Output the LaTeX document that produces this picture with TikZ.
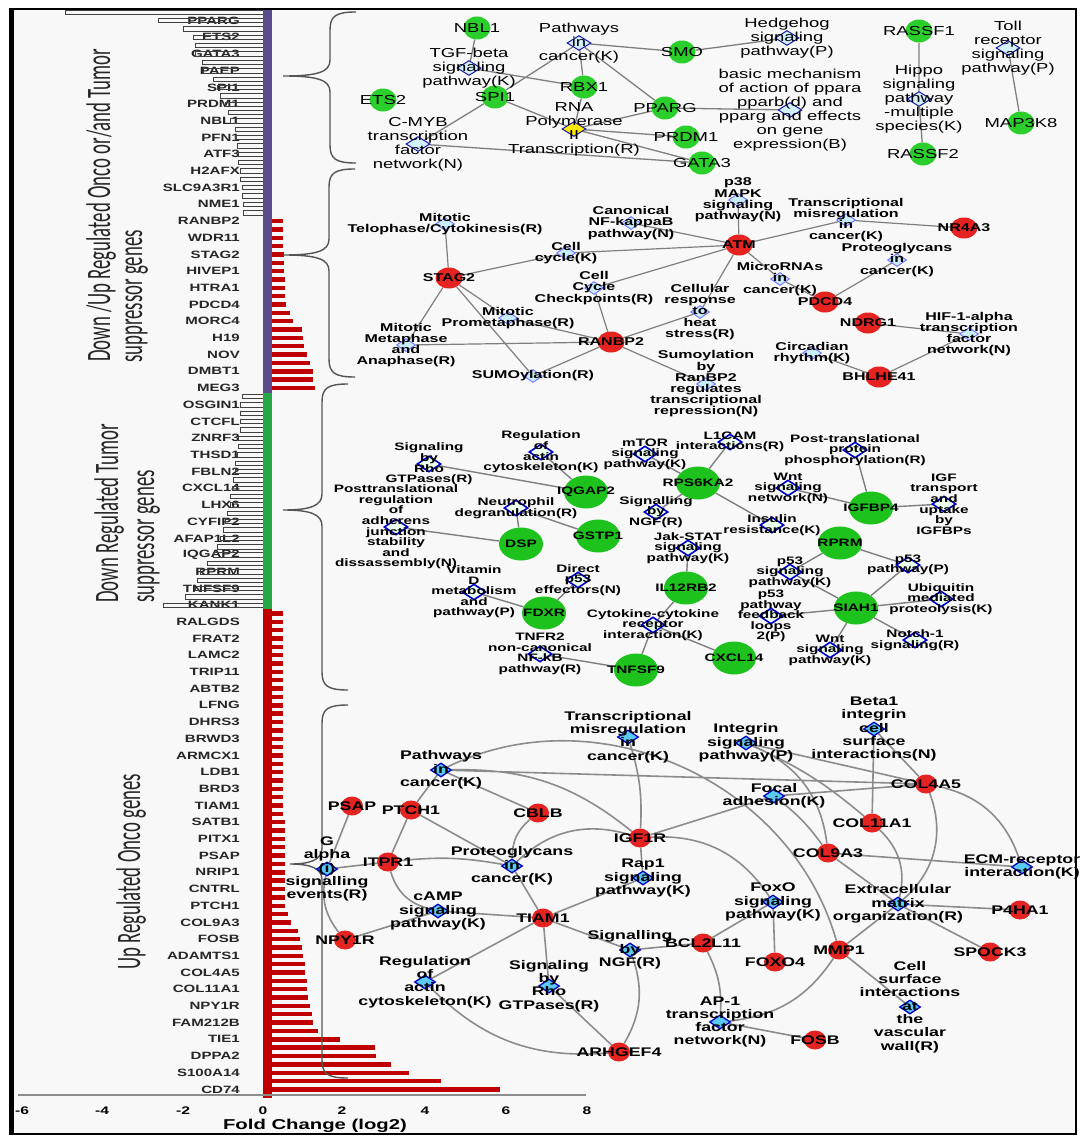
\documentclass[tikz,border=0pt]{standalone}
\usepackage{fontspec}
\usepackage{graphicx}
\usetikzlibrary{shapes.geometric}
\newfontfamily\netfont{Liberation Sans}[FakeStretch=1.42]
\newfontfamily\ttlfont{Carlito}
\definecolor{bgfill}{HTML}{F8F8F8}
\definecolor{edgegray}{HTML}{7F7F7F}
\definecolor{genegreen}{HTML}{2BCF2B}
\definecolor{genegreentwo}{HTML}{1DC21D}
\definecolor{genered}{HTML}{E52421}
\definecolor{bandpurple}{HTML}{5B4B8A}
\definecolor{bandgreen}{HTML}{26A846}
\definecolor{barred}{HTML}{C00000}
\definecolor{bracegray}{HTML}{555555}
\pgfdeclarelayer{bg}
\pgfsetlayers{bg,main}

\begin{document}
\begin{tikzpicture}[x=1pt, y=-1pt,
  link/.style={draw=edgegray, line width=1.3pt},
  lbl/.style={align=center, inner sep=0pt},
  ggene/.style={ellipse, fill=genegreen, inner sep=0pt},
  rgene/.style={ellipse, fill=genered, inner sep=0pt},
  pway/.style={diamond, inner sep=0pt},
  glbl/.style={font=\netfont\bfseries\fontsize{10.6}{11}\selectfont, anchor=east, inner sep=0pt, text=black!85},
  hbar/.style={draw=black!75, line width=0.7pt},
  rbar/.style={fill=barred},
  brace/.style={draw=bracegray, line width=1.4pt},
  ttl/.style={rotate=90, anchor=base west, inner sep=0pt, font=\ttlfont\fontsize{18.8}{20}\selectfont, text=black!85},
  tick/.style={font=\netfont\bfseries\fontsize{11}{12}\selectfont, inner sep=0pt}]

\useasboundingbox (0,0) rectangle (1080,1140);
\begin{pgfonlayer}{bg}
\fill[white] (0,0) rectangle (1080,1140);
\fill[bgfill] (10,9) rectangle (1076,1134);
\end{pgfonlayer}

% fold change bars
\foreach \g [count=\idx from 0] in {PPARG,ETS2,GATA3,PAEP,SPI1,PRDM1,NBL1,PFN1,ATF3,H2AFX,SLC9A3R1,NME1,RANBP2,WDR11,STAG2,HIVEP1,HTRA1,PDCD4,MORC4,H19,NOV,DMBT1,MEG3,OSGIN1,CTCFL,ZNRF3,THSD1,FBLN2,CXCL14,LHX6,CYFIP2,AFAP1L2,IQGAP2,RPRM,TNFSF9,KANK1,RALGDS,FRAT2,LAMC2,TRIP11,ABTB2,LFNG,DHRS3,BRWD3,ARMCX1,LDB1,BRD3,TIAM1,SATB1,PITX1,PSAP,NRIP1,CNTRL,PTCH1,COL9A3,FOSB,ADAMTS1,COL4A5,COL11A1,NPY1R,FAM212B,TIE1,DPPA2,S100A14,CD74}
  \node[glbl] (gl\idx) at (240,{20.6+16.7*\idx}) {\g};
\foreach \len [count=\idx from 0] in {65,158,183,193,195,195,202,203,213,217,220,225,228,230,235,235,237,238,238,240,240,242,242,243,243}
  \draw[hbar] (\len,{12.25+8.35*\idx-2.2}) rectangle (263,{12.25+8.35*\idx+2.2});
\foreach \len [count=\idx from 0] in {283,283,283,283,284,284,284,285,285,285,286,290,293,302,303,304,307,310,313,313,315}
  \fill[rbar] (263,{221+8.35*\idx-2.2}) rectangle (\len,{221+8.35*\idx+2.2});
\foreach \len [count=\idx from 0] in {242,240,240,240,240,238,238,237,235,235,233,232,230,230,227,225,223,220,217,213,207,200,197,195,185,163}
  \draw[hbar] (\len,{396.35+8.35*\idx-2.2}) rectangle (263,{396.35+8.35*\idx+2.2});
\foreach \len [count=\idx from 0] in {283,283,283,283,283,283,283,283,283,283,283,283,283,283,283,283,283,283,283,283,283,283,283,283,283,285,285,285,285,285,285,285,285,285,285,285,288,291,298,300,302,303,305,305,307,307,308,310,312,313,318,340,375,376,391,409,441,500}
  \fill[rbar] (263,{613.45+8.35*\idx-2.2}) rectangle (\len,{613.45+8.35*\idx+2.2});
\fill[bandpurple] (263,10) rectangle (272,393);
\fill[bandgreen] (263,393) rectangle (272,609);
\fill[barred] (263,609) rectangle (272,1098);
\draw[draw=black!45, line width=1.2pt] (18,1095) -- (586,1095);
\foreach \tk/\xx [count=\idx] in {-6/22,-4/102,-2/183,0/263,2/342,4/425,6/506,8/587}
  \node[tick] (tk\idx) at (\xx,1111) {\tk};
\node[tick, font=\netfont\bfseries\fontsize{14.3}{15}\selectfont] (xtitle) at (315,1126) {Fold Change (log2)};

\node[ttl] (ttl1a) at (110,362) {\scalebox{1}[1.82]{Down /Up Regulated Onco or/and Tumor}};
\node[ttl] (ttl1b) at (142,363) {\scalebox{1}[1.82]{suppressor genes}};
\node[ttl] (ttl2a) at (118,603) {\scalebox{1}[1.82]{Down Regulated Tumor}};
\node[ttl] (ttl2b) at (154,603) {\scalebox{1}[1.82]{suppressor genes}};
\node[ttl] (ttl3) at (140,970) {\scalebox{1}[1.82]{Up Regulated Onco genes}};

\foreach \xv/\top/\tip/\tipx/\bot in {330/12/76/283/163, 329/169/255/283/377, 322/384/510/283/690, 322/705/864/290/1078}
  \draw[brace] (\xv+26,\top) .. controls (\xv+6,\top) and (\xv,\top+4) .. (\xv,\top+18)
    -- (\xv,\tip-16) .. controls (\xv,\tip-4) and (\xv-12,\tip) .. (\tipx,\tip)
    .. controls (\xv-12,\tip) and (\xv,\tip+4) .. (\xv,\tip+16)
    -- (\xv,\bot-18) .. controls (\xv,\bot-4) and (\xv+6,\bot) .. (\xv+26,\bot);

% network 1
\begin{scope}[lbl/.append style={font=\netfont\fontsize{13}{14}\selectfont},
  ggene/.append style={minimum width=27pt, minimum height=23pt},
  pway/.append style={minimum width=24pt, minimum height=15pt, draw=blue!60!black!90, fill=cyan!18, line width=1pt}]
\node[ggene, label={[lbl]center:NBL1}] (nbl1) at (477,28) {};
\node[ggene, label={[lbl]center:SMO}] (smo) at (682,52) {};
\node[ggene, label={[lbl]center:RBX1}] (rbx1) at (584,87) {};
\node[ggene, label={[lbl]center:SPI1}] (spi1) at (495,97) {};
\node[ggene, label={[lbl]center:ETS2}] (ets2) at (383,100) {};
\node[ggene, label={[lbl]center:PPARG}] (pparg) at (665,108) {};
\node[ggene, label={[lbl]center:PRDM1}] (prdm1) at (686,137) {};
\node[ggene, label={[lbl]center:GATA3}] (gata3) at (702,163) {};
\node[ggene, label={[lbl]center:RASSF1}] (rassf1) at (919,31) {};
\node[ggene, label={[lbl]center:RASSF2}] (rassf2) at (923,154) {};
\node[ggene, label={[lbl]center:MAP3K8}] (map3k8) at (1021,123) {};
\node[pway, label={[lbl]center:{Pathways\\in\\cancer(K)}}] (pica) at (579,43) {};
\node[pway, label={[lbl]center:{TGF-beta\\signaling\\pathway(K)}}] (tgfb) at (469,68) {};
\node[pway, label={[lbl]center:{Hedgehog\\signaling\\pathway(P)}}] (hedge) at (787,38) {};
\node[pway, label={[lbl]center:{basic mechanism\\of action of ppara\\pparb(d) and\\pparg and effects\\on gene\\expression(B)}}] (ppara) at (790,110) {};
\node[pway, label={[lbl]center:{Hippo\\signaling\\pathway\\-multiple\\species(K)}}] (hippo) at (919,99) {};
\node[pway, label={[lbl]center:{Toll\\receptor\\signaling\\pathway(P)}}] (toll) at (1008,48) {};
\node[pway, fill=yellow!90!orange, label={[lbl]center:{RNA\\Polymerase\\II\\Transcription(R)}}] (rnapol) at (574,129) {};
\node[pway, label={[lbl]center:{C-MYB\\transcription\\factor\\network(N)}}] (cmyb) at (418,144) {};
\begin{pgfonlayer}{bg}
\draw[link] (nbl1) -- (tgfb) (tgfb) -- (rbx1) (pica) -- (smo) (smo) -- (hedge)
  (pica) -- (rbx1) (pica) -- (pparg) (pica) -- (spi1) (rbx1) -- (rnapol)
  (spi1) -- (rnapol) (spi1) -- (cmyb) (pparg) -- (rnapol) (pparg) -- (ppara)
  (rnapol) -- (prdm1) (rnapol) -- (gata3) (cmyb) -- (gata3)
  (rassf1) -- (hippo) (hippo) -- (rassf2) (toll) -- (map3k8);
\end{pgfonlayer}
\end{scope}

% network 2
\begin{scope}[lbl/.append style={font=\netfont\bfseries\fontsize{11.3}{11.2}\selectfont},
  rgene/.append style={minimum width=27pt, minimum height=21pt},
  pway/.append style={minimum width=19pt, minimum height=13pt, draw=blue!55, fill=cyan!22, line width=0.9pt}]
\node[rgene, label={[lbl]center:ATM}] (atm) at (739,245) {};
\node[rgene, label={[lbl]center:NR4A3}] (nr4a3) at (964,228) {};
\node[rgene, label={[lbl]center:STAG2}] (stag2) at (449,278) {};
\node[rgene, label={[lbl]center:PDCD4}] (pdcd4) at (825,302) {};
\node[rgene, label={[lbl]center:NDRG1}] (ndrg1) at (868,323) {};
\node[rgene, label={[lbl]center:RANBP2}] (ranbp2) at (611,342) {};
\node[rgene, label={[lbl]center:BHLHE41}] (bhlhe41) at (879,377) {};
\node[pway, label={[lbl]center:{p38\\MAPK\\signaling\\pathway(N)}}] (p38) at (738,200) {};
\node[pway, label={[lbl]center:{Canonical\\NF-kappaB\\pathway(N)}}] (nfkb) at (631,223) {};
\node[pway, label={[lbl]center:{Transcriptional\\misregulation\\in\\cancer(K)}}] (tmis) at (846,220) {};
\node[pway, label={[lbl]center:{Mitotic\\Telophase/Cytokinesis(R)}}] (telo) at (445,224) {};
\node[pway, label={[lbl]center:{Cell\\cycle(K)}}] (ccyc) at (566,253) {};
\node[pway, label={[lbl]center:{Proteoglycans\\in\\cancer(K)}}] (prot) at (897,260) {};
\node[pway, label={[lbl]center:{MicroRNAs\\in\\cancer(K)}}] (mirna) at (780,279) {};
\node[pway, label={[lbl]center:{Cell\\Cycle\\Checkpoints(R)}}] (cchk) at (594,288) {};
\node[pway, label={[lbl]center:{Cellular\\response\\to\\heat\\stress(R)}}] (heat) at (700,312) {};
\node[pway, label={[lbl]center:{Mitotic\\Prometaphase(R)}}] (prom) at (508,318) {};
\node[pway, label={[lbl]center:{Mitotic\\Metaphase\\and\\Anaphase(R)}}] (meta) at (406,345) {};
\node[pway, label={[lbl]center:{HIF-1-alpha\\transcription\\factor\\network(N)}}] (hif) at (969,334) {};
\node[pway, label={[lbl]center:{Circadian\\rhythm(K)}}] (circ) at (812,353) {};
\node[pway, label={[lbl]center:{SUMOylation(R)}}] (sumo) at (533,376) {};
\node[pway, label={[lbl]center:{Sumoylation\\by\\RanBP2\\regulates\\transcriptional\\repression(N)}}] (sumoby) at (706,384) {};
\begin{pgfonlayer}{bg}
\draw[link, line width=1.2pt] (atm) -- (p38) (atm) -- (nfkb) (atm) -- (tmis) (tmis) -- (nr4a3)
  (atm) -- (ccyc) (ccyc) -- (stag2) (atm) -- (cchk) (atm) -- (heat) (atm) -- (mirna)
  (mirna) -- (pdcd4) (prot) -- (pdcd4) (stag2) -- (telo) (stag2) -- (meta)
  (stag2) -- (prom) (prom) -- (ranbp2) (stag2) -- (sumo) (cchk) -- (ranbp2)
  (heat) -- (ranbp2) (meta) -- (ranbp2) (ranbp2) -- (sumo) (ranbp2) -- (sumoby)
  (ndrg1) -- (hif) (hif) -- (bhlhe41) (circ) -- (bhlhe41);
\end{pgfonlayer}
\end{scope}

% network 3
\begin{scope}[lbl/.append style={font=\netfont\bfseries\fontsize{10.8}{10.6}\selectfont},
  ggene/.append style={minimum width=44pt, minimum height=33pt, fill=genegreentwo},
  pway/.append style={minimum width=24pt, minimum height=16pt, draw=blue!80!black, fill=green!8, line width=1.6pt}]
\node[ggene, label={[lbl]center:IQGAP2}] (iqgap2) at (586,492) {};
\node[ggene, label={[lbl]center:RPS6KA2}] (rps6ka2) at (698,483) {};
\node[ggene, label={[lbl]center:IGFBP4}] (igfbp4) at (871,508) {};
\node[ggene, label={[lbl]center:GSTP1}] (gstp1) at (598,536) {};
\node[ggene, label={[lbl]center:DSP}] (dsp) at (521,544) {};
\node[ggene, label={[lbl]center:RPRM}] (rprm) at (840,543) {};
\node[ggene, label={[lbl]center:IL12RB2}] (il12rb2) at (686,588) {};
\node[ggene, label={[lbl]center:SIAH1}] (siah1) at (856,608) {};
\node[ggene, label={[lbl]center:FDXR}] (fdxr) at (544,613) {};
\node[ggene, label={[lbl]center:CXCL14}] (cxcl14) at (734,658) {};
\node[ggene, label={[lbl]center:TNFSF9}] (tnfsf9) at (636,670) {};
\node[pway, label={[lbl]center:{Signaling\\by\\Rho\\GTPases(R)}}] (rho) at (429,464) {};
\node[pway, label={[lbl]center:{Regulation\\of\\actin\\cytoskeleton(K)}}] (actin) at (541,452) {};
\node[pway, label={[lbl]center:{mTOR\\signaling\\pathway(K)}}] (mtor) at (645,454) {};
\node[pway, label={[lbl]center:{L1CAM\\interactions(R)}}] (l1cam) at (730,442) {};
\node[pway, label={[lbl]center:{Post-translational\\protein\\phosphorylation(R)}}] (ptp) at (855,450) {};
\node[pway, label={[lbl]center:{Wnt\\signaling\\network(N)}}] (wntn) at (788,488) {};
\node[pway, label={[lbl]center:{IGF\\transport\\and\\uptake\\by\\IGFBPs}}] (igft) at (944,504) {};
\node[pway, label={[lbl]center:{Posttranslational\\regulation\\of\\adherens\\junction\\stability\\and\\dissassembly(N)}}] (adh) at (396,527) {};
\node[pway, label={[lbl]center:{Neutrophil\\degranulation(R)}}] (neut) at (516,508) {};
\node[pway, label={[lbl]center:{Signalling\\by\\NGF(R)}}] (ngf) at (656,512) {};
\node[pway, label={[lbl]center:{Insulin\\resistance(K)}}] (insr) at (772,525) {};
\node[pway, label={[lbl]center:{Jak-STAT\\signaling\\pathway(K)}}] (jak) at (688,548) {};
\node[pway, label={[lbl]center:{p53\\signaling\\pathway(K)}}] (p53s) at (790,572) {};
\node[pway, label={[lbl]center:{p53\\pathway(P)}}] (p53p) at (908,565) {};
\node[pway, label={[lbl]center:{Vitamin\\D\\metabolism\\and\\pathway(P)}}] (vitd) at (474,592) {};
\node[pway, label={[lbl]center:{Direct\\p53\\effectors(N)}}] (dp53) at (578,580) {};
\node[pway, label={[lbl]center:{Ubiquitin\\mediated\\proteolysis(K)}}] (ubq) at (941,599) {};
\node[pway, label={[lbl]center:{p53\\pathway\\feedback\\loops\\2(P)}}] (p53f) at (771,616) {};
\node[pway, label={[lbl]center:{Cytokine-cytokine\\receptor\\interaction(K)}}] (cyto) at (653,625) {};
\node[pway, label={[lbl]center:{TNFR2\\non-canonical\\NF-kB\\pathway(R)}}] (tnfr2) at (540,654) {};
\node[pway, label={[lbl]center:{Wnt\\signaling\\pathway(K)}}] (wntp) at (830,650) {};
\node[pway, label={[lbl]center:{Notch-1\\signaling(R)}}] (notch) at (915,640) {};
\begin{pgfonlayer}{bg}
\draw[link, line width=1.4pt] (rho) -- (iqgap2) (actin) -- (iqgap2) (neut) -- (dsp) (neut) -- (gstp1)
  (adh) -- (dsp) (mtor) -- (rps6ka2) (l1cam) -- (rps6ka2) (rps6ka2) -- (ngf)
  (rps6ka2) -- (insr) (wntn) -- (igfbp4) (ptp) -- (igfbp4) (igfbp4) -- (igft)
  (jak) -- (il12rb2) (il12rb2) -- (cyto) (cyto) -- (tnfsf9) (cyto) -- (cxcl14)
  (tnfr2) -- (tnfsf9) (vitd) -- (fdxr) (dp53) -- (fdxr) (rprm) -- (p53s)
  (rprm) -- (p53p) (p53s) -- (siah1) (p53p) -- (siah1) (ubq) -- (siah1)
  (p53f) -- (siah1) (wntp) -- (siah1) (notch) -- (siah1);
\end{pgfonlayer}
\end{scope}

% network 4
\begin{scope}[lbl/.append style={font=\netfont\bfseries\fontsize{12.5}{13.3}\selectfont},
  rgene/.append style={minimum width=22pt, minimum height=19pt},
  pway/.append style={minimum width=21pt, minimum height=14pt, draw=blue!75!black, fill=cyan!65, line width=1.3pt}]
\node[rgene, label={[lbl]center:PSAP}] (psap) at (352,806) {};
\node[rgene, label={[lbl]center:PTCH1}] (ptch1) at (411,810) {};
\node[rgene, label={[lbl]center:CBLB}] (cblb) at (538,813) {};
\node[rgene, label={[lbl]center:IGF1R}] (igf1r) at (640,838) {};
\node[rgene, label={[lbl]center:ITPR1}] (itpr1) at (388,862) {};
\node[rgene, label={[lbl]center:NPY1R}] (npy1r) at (345,940) {};
\node[rgene, label={[lbl]center:TIAM1}] (tiam1) at (543,918) {};
\node[rgene, label={[lbl]center:COL4A5}] (col4a5) at (926,784) {};
\node[rgene, label={[lbl]center:COL11A1}] (col11a1) at (872,823) {};
\node[rgene, label={[lbl]center:COL9A3}] (col9a3) at (828,853) {};
\node[rgene, label={[lbl]center:P4HA1}] (p4ha1) at (1020,910) {};
\node[rgene, label={[lbl]center:SPOCK3}] (spock3) at (990,952) {};
\node[rgene, label={[lbl]center:MMP1}] (mmp1) at (839,950) {};
\node[rgene, label={[lbl]center:BCL2L11}] (bcl2l11) at (703,943) {};
\node[rgene, label={[lbl]center:FOXO4}] (foxo4) at (775,962) {};
\node[rgene, label={[lbl]center:ARHGEF4}] (arhgef4) at (619,1052) {};
\node[rgene, label={[lbl]center:FOSB}] (fosb) at (815,1040) {};
\node[pway, label={[lbl]center:{Transcriptional\\misregulation\\in\\cancer(K)}}] (tmis4) at (628,737) {};
\node[pway, label={[lbl]center:{Integrin\\signaling\\pathway(P)}}] (itg) at (746,743) {};
\node[pway, label={[lbl]center:{Beta1\\integrin\\cell\\surface\\interactions(N)}}] (beta1) at (874,729) {};
\node[pway, label={[lbl]center:{Pathways\\in\\cancer(K)}}] (pic4) at (441,770) {};
\node[pway, label={[lbl]center:{Focal\\adhesion(K)}}] (focal) at (774,796) {};
\node[pway, label={[lbl]center:{Proteoglycans\\in\\cancer(K)}}] (prot4) at (512,866) {};
\node[pway, label={[lbl]center:{G\\alpha\\(i)\\signalling\\events(R)}}] (galpha) at (327,869) {};
\node[pway, label={[lbl]center:{Rap1\\signaling\\pathway(K)}}] (rap1) at (643,878) {};
\node[pway, label={[lbl]center:{cAMP\\signaling\\pathway(K)}}] (camp) at (438,911) {};
\node[pway, label={[lbl]center:{ECM-receptor\\interaction(K)}}] (ecmr) at (1022,867) {};
\node[pway, label={[lbl]center:{FoxO\\signaling\\pathway(K)}}] (foxo) at (773,902) {};
\node[pway, label={[lbl]center:{Extracellular\\matrix\\organization(R)}}] (ecmo) at (898,904) {};
\node[pway, label={[lbl]center:{Signalling\\by\\NGF(R)}}] (ngf4) at (630,950) {};
\node[pway, label={[lbl]center:{Regulation\\of\\actin\\cytoskeleton(K)}}] (actin4) at (425,982) {};
\node[pway, label={[lbl]center:{Signaling\\by\\Rho\\GTPases(R)}}] (rho4) at (549,986) {};
\node[pway, label={[lbl]center:{AP-1\\transcription\\factor\\network(N)}}] (ap1) at (720,1022) {};
\node[pway, label={[lbl]center:{Cell\\surface\\interactions\\at\\the\\vascular\\wall(R)}}] (csi) at (910,1007) {};
\begin{pgfonlayer}{bg}
\draw[link, draw=edgegray!90, line width=1.6pt]
  (pic4) -- (ptch1) (pic4) -- (cblb) (pic4) to[bend left=20] (igf1r)
  (pic4) to[bend left=50] (mmp1) (pic4) -- (col4a5) (tmis4) to[bend left=10] (igf1r)
  (itg) -- (col4a5) (itg) to[bend left=8] (col11a1) (itg) to[bend left=30] (col9a3)
  (beta1) -- (col4a5) (beta1) -- (col11a1) (focal) -- (col4a5) (focal) -- (igf1r)
  (focal) to[bend left=8] (col9a3) (col4a5) to[bend left=35] (ecmo)
  (col4a5) to[bend left=30] (ecmr) (col11a1) to[bend left=30] (ecmo)
  (col9a3) -- (ecmr) (col9a3) -- (ecmo) (ecmo) -- (p4ha1) (ecmo) -- (spock3)
  (ecmo) -- (mmp1) (igf1r) to[bend right=30] (prot4) (igf1r) -- (rap1)
  (igf1r) to[bend left=30] (foxo) (cblb) to[bend right=25] (prot4) (ptch1) -- (prot4)
  (ptch1) -- (itpr1) (itpr1) to[bend left=8] (prot4) (itpr1) -- (galpha)
  (itpr1) to[bend right=30] (camp) (psap) -- (galpha) (galpha) to[bend right=25] (npy1r)
  (npy1r) -- (camp) (camp) -- (tiam1) (prot4) -- (tiam1) (rap1) -- (tiam1)
  (tiam1) -- (actin4) (tiam1) -- (rho4) (tiam1) -- (ngf4) (ngf4) -- (bcl2l11)
  (ngf4) to[bend left=25] (arhgef4) (actin4) to[bend right=25] (arhgef4) (rho4) -- (arhgef4)
  (bcl2l11) -- (foxo) (bcl2l11) to[bend left=15] (ap1) (foxo) -- (foxo4)
  (ap1) -- (fosb) (ap1) to[bend right=25] (mmp1) (mmp1) -- (csi);
\end{pgfonlayer}
\end{scope}

\draw[line width=2pt] (10,9) rectangle (1076,1134);
\draw[line width=5pt] (11,9) -- (11,1134);
\end{tikzpicture}
\end{document}
